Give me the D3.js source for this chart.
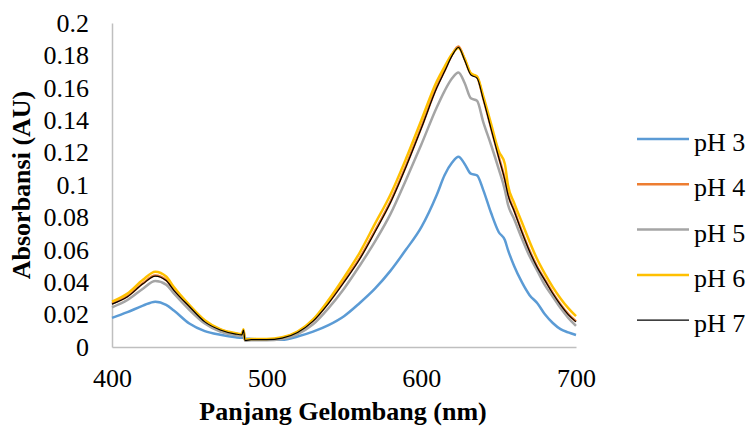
<!DOCTYPE html>
<html lang="en">
<head>
    <meta charset="UTF-8">
    <title>Absorbansi pH</title>
    <script src="https://d3js.org/d3.v7.min.js"></script>
    <style>
        body { margin: 0; background: white; }
        text { font-family: "Liberation Serif", "Times New Roman", serif; }
    </style>
</head>
<body>
<svg id="main" width="748" height="433"></svg>
<script>
    // wavelengths (nm), shared by every series
    let wavelengths = [400, 410, 420, 428, 435, 440, 450, 460, 470, 480, 484, 485, 486, 490, 500,
        510, 520, 530, 540, 550, 560, 570, 580, 590, 600, 610, 615, 620, 624, 628, 632, 636, 640,
        645, 650, 654, 656, 660, 665, 670, 675, 680, 685, 690, 695, 700];

    let ph3 = [.018, .0215, .0255, .028, .026, .0225, .0145, .0098, .0075, .006, .0057, .0058, .0052, .005, .0045,
        .0045, .0065, .0095, .0135, .019, .027, .036, .047, .060, .074, .094, .106, .114, .1175, .113, .107, .106, .097,
        .083, .071, .066, .060, .050, .040, .032, .027, .020, .0148, .011, .009, .0074];
    let ph4 = [.0268, .0313, .0393, .0441, .0413, .0353, .0252, .0157, .0107, .0081, .0076, .0102, .0042, .0046, .0046,
        .0056, .0092, .0163, .0274, .0405, .0545, .0716, .0896, .1116, .1356, .1606, .1706, .1806, .1855, .1776, .1686, .1666, .1536,
        .1356, .1176, .1034, .0944, .0844, .0714, .0594, .0494, .0413, .0333, .0263, .0203, .0158];
    let ph5 = [.0245, .029, .036, .0407, .0385, .033, .023, .0145, .0095, .0072, .0068, .0095, .0038, .0042, .0042,
        .005, .008, .014, .024, .036, .050, .065, .082, .103, .125, .148, .158, .166, .1695, .163, .1535, .152, .139,
        .125, .110, .097, .088, .079, .067, .056, .047, .038, .031, .024, .018, .013];
    let ph6 = [.028, .033, .0415, .0465, .0435, .037, .026, .0165, .011, .0085, .008, .011, .0045, .005, .005,
        .006, .0095, .017, .029, .043, .058, .076, .094, .116, .140, .164, .173, .181, .1845, .178, .169, .167, .155,
        .138, .121, .113, .100, .089, .077, .065, .054, .045, .037, .030, .024, .019];
    let ph7 = [.0265, .031, .039, .0438, .041, .035, .025, .0155, .0105, .008, .0075, .0105, .004, .0045, .0045,
        .0055, .009, .016, .027, .040, .054, .071, .089, .111, .135, .160, .170, .180, .185, .177, .168, .166, .153,
        .135, .117, .103, .094, .084, .071, .059, .049, .041, .033, .026, .020, .0155];

    let seriesNames = ["pH 3", "pH 4", "pH 5", "pH 6", "pH 7"];
    let seriesValues = [ph3, ph4, ph5, ph6, ph7];
    let colors = ["#5b9bd5", "#ed7d31", "#a5a5a5", "#ffc000", "#000000"];
    let widths = [2.5, 2.5, 2.5, 2.5, 1.2];

    let xTicks = [400, 500, 600, 700];
    let yTicks = [0, 0.02, 0.04, 0.06, 0.08, 0.1, 0.12, 0.14, 0.16, 0.18, 0.2];
    let yTickLabels = ["0", "0.02", "0.04", "0.06", "0.08", "0.1", "0.12", "0.14", "0.16", "0.18", "0.2"];

    let svg = d3.select('svg#main');
    let plot = {left: 112, right: 576, top: 23, bottom: 347};

    let scaleX = d3.scaleLinear().domain([400, 700]).range([plot.left, plot.right]);
    let scaleY = d3.scaleLinear().domain([0, 0.2]).range([plot.bottom, plot.top]);

    // axes: no tick marks, light gray lines
    let xAxis = svg.append('g')
        .attr("transform", "translate(0," + plot.bottom + ")")
        .call(d3.axisBottom(scaleX).tickValues(xTicks).tickSize(0).tickPadding(22).tickFormat(d3.format("d")));
    let yAxis = svg.append('g')
        .attr("transform", "translate(" + plot.left + ",0)")
        .call(d3.axisLeft(scaleY).tickValues(yTicks).tickSize(0).tickPadding(23)
            .tickFormat(function (d, i) { return yTickLabels[i]; }));
    svg.selectAll('.domain').attr('stroke', '#bfbfbf').attr('stroke-width', 1.5);
    svg.selectAll('.tick text')
        .attr('font-family', '"Liberation Serif", serif')
        .attr('font-size', 26)
        .attr('fill', '#000');

    // lines
    let line = d3.line()
        .curve(d3.curveMonotoneX)
        .x(function (d, i) { return scaleX(wavelengths[i]); })
        .y(function (d) { return scaleY(d); });
    let fig = svg.append('g');
    seriesValues.forEach(function (vals, k) {
        fig.append('path')
            .datum(vals)
            .attr('d', line)
            .attr('fill', 'none')
            .attr('stroke', colors[k])
            .attr('stroke-width', widths[k])
            .attr('stroke-linejoin', 'round');
    });

    // axis titles
    svg.append('text')
        .attr('x', (plot.left + plot.right) / 2 - 1)
        .attr('y', 420)
        .attr('text-anchor', 'middle')
        .attr('font-size', 26)
        .attr('font-weight', 'bold')
        .text('Panjang Gelombang (nm)');
    svg.append('text')
        .attr('transform', 'translate(30,' + ((plot.top + plot.bottom) / 2) + ') rotate(-90)')
        .attr('text-anchor', 'middle')
        .attr('font-size', 26)
        .attr('font-weight', 'bold')
        .text('Absorbansi (AU)');

    // legend
    let legend = svg.append('g').attr('transform', 'translate(637,139)');
    let rows = legend.selectAll('g.row')
        .data(seriesNames)
        .enter()
        .append('g')
        .attr('class', 'row')
        .attr('transform', function (d, i) { return 'translate(0,' + (i * 45.3) + ')'; });
    rows.append('line')
        .attr('x1', 0).attr('x2', 52)
        .attr('y1', 0).attr('y2', 0)
        .attr('stroke', function (d, i) { return colors[i]; })
        .attr('stroke-width', function (d, i) { return widths[i]; });
    rows.append('text')
        .attr('x', 57)
        .attr('y', 12)
        .attr('font-size', 26)
        .text(function (d) { return d; });
</script>
</body>
</html>
